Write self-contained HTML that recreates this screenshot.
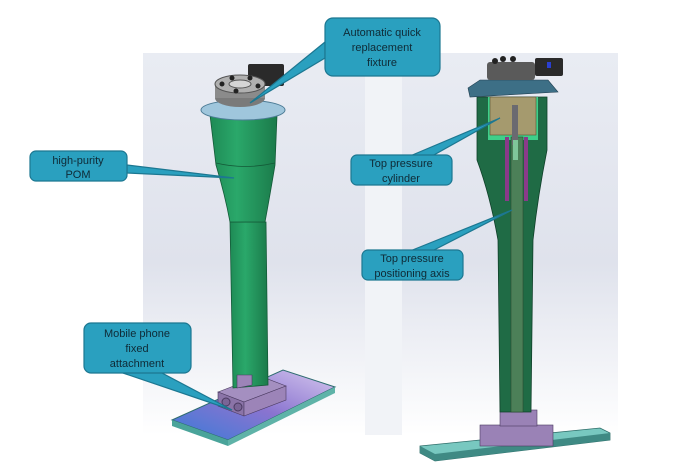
<!DOCTYPE html>
<html><head><meta charset="utf-8"><style>
html,body{margin:0;padding:0;background:#fff;}
svg{display:block;}
text{font-family:"Liberation Sans",sans-serif;font-size:11px;fill:#0f2a36;}
</style></head><body>
<svg width="680" height="472" viewBox="0 0 680 472" xmlns="http://www.w3.org/2000/svg">
<defs>
<linearGradient id="bg" x1="0" y1="0" x2="0" y2="1">
<stop offset="0" stop-color="#e9ecf3"/><stop offset="0.55" stop-color="#dfe2ec"/><stop offset="1" stop-color="#ffffff"/>
</linearGradient>
<linearGradient id="grn" x1="0" y1="0" x2="1" y2="0">
<stop offset="0" stop-color="#1e8a55"/><stop offset="0.4" stop-color="#2aa86a"/><stop offset="1" stop-color="#1b7a4a"/>
</linearGradient>
<linearGradient id="ph" x1="0" y1="1" x2="1" y2="0">
<stop offset="0" stop-color="#3a7bd8"/><stop offset="0.5" stop-color="#8a74d0"/><stop offset="1" stop-color="#d6c8ee"/>
</linearGradient>
</defs>
<rect x="143" y="53" width="223" height="382" fill="url(#bg)"/>
<rect x="365" y="53" width="37" height="382" fill="#f1f3f7"/>
<rect x="402" y="53" width="216" height="382" fill="url(#bg)"/>

<!-- LEFT MODEL -->
<polygon points="172,420 283,370 335,387 228,440" fill="url(#ph)" stroke="#2e6c70"/>
<polygon points="172,420 228,440 228,446 172,426" fill="#4aa49a"/>
<polygon points="228,440 335,387 335,393 228,446" fill="#5fb3a8"/>
<polygon points="218,392 260,376 286,386 244,402" fill="#a48fc0" stroke="#4a3a60" stroke-width="0.6"/>
<polygon points="218,392 244,402 244,416 218,406" fill="#8b74a8" stroke="#4a3a60" stroke-width="0.6"/>
<polygon points="244,402 286,386 286,400 244,416" fill="#9c84b8" stroke="#4a3a60" stroke-width="0.6"/>
<circle cx="226" cy="402" r="4" fill="#7a6596" stroke="#4a3a60"/>
<circle cx="238" cy="407" r="4" fill="#7a6596" stroke="#4a3a60"/>
<path d="M230,222 L266,222 L268,385 L233,388 Z" fill="url(#grn)" stroke="#145a38" stroke-width="0.8"/>
<path d="M237,375 L252,375 L252,385 L237,388 Z" fill="#9c84b8" stroke="#4a3a60" stroke-width="0.6"/>
<path d="M210,115 L277,115 L275,165 Q270,195 265,222 L230,222 Q225,195 216,165 Z" fill="url(#grn)" stroke="#145a38" stroke-width="0.8"/>
<path d="M216,163 Q245,170 275,163" fill="none" stroke="#145a38" stroke-width="0.8"/>
<ellipse cx="243" cy="110" rx="42" ry="10" fill="#9fc6dc" stroke="#4d7c96"/>
<rect x="248" y="64" width="36" height="22" fill="#2a2a2a" rx="2"/>
<ellipse cx="240" cy="98" rx="25" ry="9" fill="#7a7a7a"/>
<rect x="215" y="84" width="50" height="14" fill="#8b8b8b"/>
<ellipse cx="240" cy="84" rx="25" ry="9" fill="#b0b0b0" stroke="#555"/>
<ellipse cx="240" cy="84" rx="11" ry="4" fill="#d5d5d5" stroke="#555"/>
<circle cx="222" cy="84" r="2.5" fill="#222"/><circle cx="232" cy="78" r="2.5" fill="#222"/><circle cx="250" cy="78" r="2.5" fill="#222"/><circle cx="258" cy="86" r="2.5" fill="#222"/><circle cx="236" cy="91" r="2.5" fill="#222"/>

<!-- RIGHT MODEL -->
<polygon points="420,446 600,428 610,433 610,440 435,461 420,453" fill="#78c8c0" stroke="#2f6e6a" stroke-width="0.8"/>
<polygon points="420,446 420,453 435,461 610,440 610,433 435,454" fill="#3f8a84"/>
<rect x="480" y="425" width="73" height="21" fill="#9a82b6" stroke="#4a3a60" stroke-width="0.6"/>
<rect x="500" y="410" width="37" height="16" fill="#9a82b6" stroke="#4a3a60" stroke-width="0.6"/>
<path d="M477,97 L547,97 L547,150 Q538,195 533,240 L531,412 L500,412 L498,240 Q490,195 477,160 Z" fill="#1f6b45" stroke="#10402a" stroke-width="0.8"/>
<rect x="488" y="97" width="50" height="43" fill="#3fcf8a"/>
<rect x="490" y="97" width="46" height="38" fill="#a59a6e" stroke="#5a5030" stroke-width="0.6"/>
<rect x="505" y="137" width="4" height="64" fill="#8a3a8a"/>
<rect x="524" y="137" width="4" height="64" fill="#8a3a8a"/>
<rect x="511" y="137" width="12" height="275" fill="#4c8058" stroke="#2a4a30" stroke-width="0.6"/>
<rect x="512" y="105" width="6" height="40" fill="#6a6a70"/>
<rect x="513" y="140" width="5" height="20" fill="#7fc69a"/>
<polygon points="470,97 468,88 480,80 548,80 558,92" fill="#3d6f86" stroke="#213f50" stroke-width="0.6"/>
<rect x="487" y="62" width="48" height="18" fill="#5a5a5a" rx="3"/>
<circle cx="495" cy="61" r="3" fill="#222"/><circle cx="503" cy="59" r="3" fill="#222"/><circle cx="513" cy="59" r="3" fill="#222"/>
<rect x="535" y="58" width="28" height="18" fill="#2a2a2a" rx="2"/>
<rect x="547" y="62" width="4" height="6" fill="#2a3fd0"/>

<!-- CALLOUTS -->
<g fill="#2aa0bf" stroke="#1c7791" stroke-width="1.2">
<path d="M325,42 L250,103 L325,58 Z"/>
<rect x="325" y="18" width="115" height="58" rx="8"/>
<path d="M127,165 L234,178 L127,173 Z"/>
<rect x="30" y="151" width="97" height="30" rx="6"/>
<path d="M410,156 L500,118 L432,156 Z"/>
<rect x="351" y="155" width="101" height="30" rx="6"/>
<path d="M410,251 L512,210 L432,251 Z"/>
<rect x="362" y="250" width="101" height="30" rx="6"/>
<path d="M120,372 L232,410 L160,372 Z"/>
<rect x="84" y="323" width="107" height="50" rx="7"/>
</g>
<g text-anchor="middle">
<text x="382" y="36">Automatic quick</text>
<text x="382" y="51">replacement</text>
<text x="382" y="66">fixture</text>
<text x="78" y="164">high-purity</text>
<text x="78" y="178">POM</text>
<text x="401" y="167">Top pressure</text>
<text x="401" y="182">cylinder</text>
<text x="412" y="262">Top pressure</text>
<text x="412" y="277">positioning axis</text>
<text x="137" y="337">Mobile phone</text>
<text x="137" y="352">fixed</text>
<text x="137" y="367">attachment</text>
</g>
</svg>
</body></html>
